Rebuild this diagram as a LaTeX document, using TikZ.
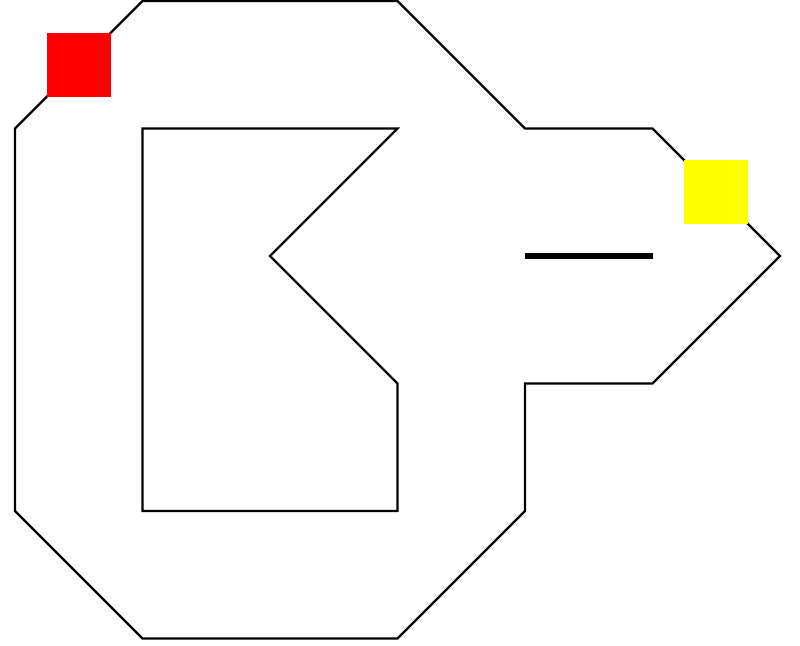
\documentclass[tikz,border=0pt]{standalone}
\usetikzlibrary{math}
\definecolor{caryellow}{RGB}{255,255,0}
\definecolor{carred}{RGB}{255,0,0}
\begin{document}
\begin{tikzpicture}[x=1cm,y=-1cm,
  wall/.style={line width=0.5pt,line join=miter},
  finish/.style={line width=1.2pt}]
\tikzmath{
\half = 0.25;
}
\useasboundingbox (-0.118,-0.008) rectangle (6.157,5.059);
%%%% outer wall
\draw[wall] (1,0) -- (3,0) -- (4,1) -- (5,1) -- (6,2) -- (5,3) -- (4,3) -- (4,4) -- (3,5) -- (1,5) -- (0,4) -- (0,1) -- cycle;
%%%% inner wall
\draw[wall] (1,1) -- (3,1) -- (2,2) -- (3,3) -- (3,4) -- (1,4) -- cycle;
%%%% finish line
\draw[finish] (4,2) -- (5,2);
%%%% cars
\coordinate (redcar) at (0.5,0.5);
\coordinate (yellowcar) at (5.5,1.5);
\fill[carred] (redcar) ++(-\half,-\half) rectangle ++(2*\half,2*\half);
\fill[caryellow] (yellowcar) ++(-\half,-\half) rectangle ++(2*\half,2*\half);
\end{tikzpicture}
\end{document}
